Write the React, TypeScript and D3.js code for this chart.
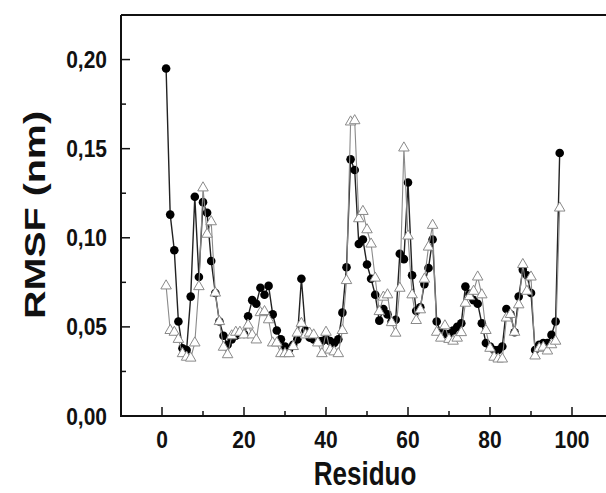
import React from 'react';
import * as d3 from 'd3';

// residue number of each point
const residues = d3.range(1, 98);

// filled circles (black series)
const rmsfCircle = [
  0.195, 0.113, 0.093, 0.053, 0.038, 0.037, 0.067, 0.123, 0.078, 0.12,
  0.114, 0.087, 0.069, 0.053, 0.045, 0.04, 0.043, 0.045, 0.046, 0.046,
  0.056, 0.065, 0.063, 0.072, 0.068, 0.073, 0.057, 0.048, 0.043, 0.039,
  0.0375, 0.04, 0.043, 0.077, 0.048, 0.044, 0.043, 0.042, 0.042, 0.043,
  0.042, 0.041, 0.043, 0.058, 0.0835, 0.144, 0.138, 0.0965, 0.099, 0.085,
  0.077, 0.068, 0.0535, 0.06, 0.057, 0.053, 0.054, 0.091, 0.088, 0.131,
  0.079, 0.059, 0.061, 0.074, 0.083, 0.099, 0.053, 0.047, 0.046, 0.046,
  0.048, 0.05, 0.052, 0.0726, 0.0685, 0.065, 0.063, 0.052, 0.041, 0.039,
  0.037, 0.037, 0.039, 0.06, 0.057, 0.047, 0.067, 0.082, 0.079, 0.069,
  0.037, 0.04, 0.041, 0.041, 0.0455, 0.053, 0.1476,
];

// open triangles (grey series)
const rmsfTriangle = [
  0.073, 0.048, 0.047, 0.043, 0.035, 0.033, 0.0325, 0.041, 0.0726, 0.128,
  0.102, 0.109, 0.069, 0.053, 0.0386, 0.0344, 0.045, 0.047, 0.047, 0.0455,
  0.051, 0.0455, 0.0427, 0.058, 0.0586, 0.054, 0.041, 0.041, 0.035, 0.035,
  0.035, 0.039, 0.0465, 0.052, 0.0455, 0.0465, 0.0455, 0.041, 0.035, 0.047,
  0.037, 0.036, 0.035, 0.048, 0.076, 0.165, 0.1657, 0.1107, 0.1148, 0.1045,
  0.0965, 0.0774, 0.0586, 0.0667, 0.068, 0.0524, 0.0465, 0.0717, 0.1504, 0.101,
  0.068, 0.0536, 0.0596, 0.0768, 0.0948, 0.107, 0.047, 0.0437, 0.0506, 0.043,
  0.042, 0.0437, 0.0468, 0.0633, 0.067, 0.07, 0.078, 0.068, 0.048, 0.038,
  0.033, 0.032, 0.032, 0.055, 0.057, 0.047, 0.0624, 0.085, 0.07, 0.078,
  0.0337, 0.038, 0.0386, 0.0365, 0.04, 0.042, 0.1167,
];

const xTicks = [0, 20, 40, 60, 80, 100];
const xMinor = [-10, 10, 30, 50, 70, 90];
const yTicks = [0, 0.05, 0.1, 0.15, 0.2];
const yMinor = [0.025, 0.075, 0.125, 0.175];

const W = 606;
const H = 493;
const left = 121;
const right = 613;
const top = 15;
const bottom = 416;

const fmt = (v: number) => d3.format('.2f')(v).replace('.', ',');

export default function App() {
  const x = d3.scaleLinear().domain([-10, 110]).range([left, right]);
  const y = d3.scaleLinear().domain([0, 0.225]).range([bottom, top]);

  const line = d3
    .line<number>()
    .x((d, i) => x(residues[i]))
    .y(d => y(d));

  const tri = d3.symbol().type(d3.symbolTriangle).size(48)() as string;
  const font = 'Liberation Sans, Arial, sans-serif';

  return (
    <svg
      width={W}
      height={H}
      style={{ position: 'absolute', left: 0, top: 0, background: '#fff' }}
      fontFamily={font}
    >
      {/* frame */}
      <path
        d={`M${left},${top}H${right}M${left},${top}V${bottom}H${right}`}
        fill="none"
        stroke="#111"
        strokeWidth={2}
      />

      {/* x ticks */}
      {xTicks.map(t => (
        <g key={'x' + t}>
          <line x1={x(t)} x2={x(t)} y1={bottom} y2={bottom - 9} stroke="#111" strokeWidth={1.5} />
          <text
            transform={`translate(${x(t)},448) scale(1,1.12)`}
            textAnchor="middle"
            fontSize={21}
            fontWeight="bold"
            fill="#111"
          >
            {t}
          </text>
        </g>
      ))}
      {xMinor.map(t => (
        <line key={'xm' + t} x1={x(t)} x2={x(t)} y1={bottom} y2={bottom - 5} stroke="#111" strokeWidth={1.5} />
      ))}

      {/* y ticks */}
      {yTicks.map(t => (
        <g key={'y' + t}>
          <line x1={left} x2={left + 9} y1={y(t)} y2={y(t)} stroke="#111" strokeWidth={1.5} />
          <text
            transform={`translate(107,${y(t) + 8.5}) scale(1,1.12)`}
            textAnchor="end"
            fontSize={21}
            fontWeight="bold"
            fill="#111"
          >
            {fmt(t)}
          </text>
        </g>
      ))}
      {yMinor.map(t => (
        <line key={'ym' + t} x1={left} x2={left + 5} y1={y(t)} y2={y(t)} stroke="#111" strokeWidth={1.5} />
      ))}

      {/* black series */}
      <path d={line(rmsfCircle) as string} fill="none" stroke="#222" strokeWidth={1.4} />
      {rmsfCircle.map((v, i) => (
        <circle key={'c' + i} cx={x(residues[i])} cy={y(v)} r={4.3} fill="#000" />
      ))}

      {/* grey series */}
      <path d={line(rmsfTriangle) as string} fill="none" stroke="#8a8a8a" strokeWidth={1.1} />
      {rmsfTriangle.map((v, i) => (
        <path
          key={'t' + i}
          d={tri}
          transform={`translate(${x(residues[i])},${y(v)})`}
          fill="#fff"
          stroke="#8a8a8a"
          strokeWidth={1}
        />
      ))}

      {/* axis titles */}
      <text
        transform="translate(365,485) scale(1,1.3)"
        textAnchor="middle"
        fontSize={26}
        fontWeight="bold"
        fill="#111"
      >
        Residuo
      </text>
      <text
        transform="translate(45,215) rotate(-90) scale(1.36,1)"
        textAnchor="middle"
        fontSize={29}
        fontWeight="bold"
        fill="#111"
      >
        RMSF (nm)
      </text>
    </svg>
  );
}
